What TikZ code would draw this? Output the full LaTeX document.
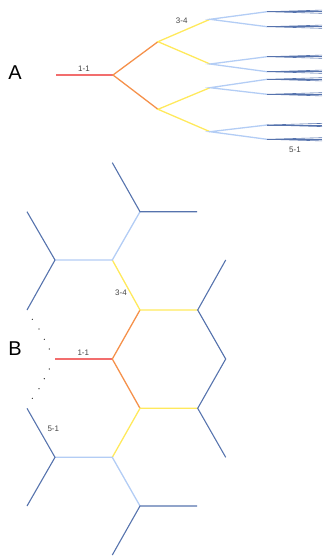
\documentclass[tikz,border=0pt]{standalone}
\usepackage{fontspec}
\setmainfont{Liberation Sans}
\definecolor{cred}{HTML}{F26D6D}
\definecolor{corange}{HTML}{F5914B}
\definecolor{cyellow}{HTML}{FFE95C}
\definecolor{clblue}{HTML}{B3CDF5}
\definecolor{cdblue}{HTML}{5673AD}
\definecolor{ctext}{HTML}{444444}
\tikzset{
  redl/.style={draw=cred,line width=1.4pt},
  orl/.style={draw=corange,line width=1.3pt},
  yel/.style={draw=cyellow,line width=1.3pt},
  lbl/.style={draw=clblue,line width=1.3pt},
  dbl/.style={draw=cdblue,line width=1.1pt},
  fan/.style={draw=cdblue,line width=0.6pt},
  lab/.style={font=\fontsize{8}{9}\selectfont,text=ctext,inner sep=0pt},
  big/.style={font=\fontsize{20}{22}\selectfont,text=black,inner sep=0pt},
  dotm/.style={fill=black,circle,inner sep=0pt,minimum size=1.2pt}
}
\begin{document}
\begin{tikzpicture}[x=1pt,y=-1pt]
\useasboundingbox (0,0) rectangle (322,556);
% ---------- A ----------
\node[big] (A) at (15,73) {A};
\coordinate (a0) at (56,75);
\coordinate (a1) at (113,75);
\coordinate (b1) at (158,41.7);
\coordinate (b2) at (158,109.3);
\coordinate (c1) at (210,19.3);
\coordinate (c2) at (210,64);
\coordinate (c3) at (210,87.7);
\coordinate (c4) at (210,131.7);
\coordinate (d1) at (267,11.7);
\coordinate (d2) at (267,26.7);
\coordinate (d3) at (267,56.7);
\coordinate (d4) at (267,71.7);
\coordinate (d5) at (267,79.3);
\coordinate (d6) at (267,94.3);
\coordinate (d7) at (267,125);
\coordinate (d8) at (267,139.3);
\draw[redl] (a0) -- (a1);
\draw[orl] (b1) -- (a1) -- (b2);
\draw[yel] (c1) -- (b1) -- (c2);
\draw[yel] (c3) -- (b2) -- (c4);
\draw[lbl] (d1) -- (c1) -- (d2);
\draw[lbl] (d3) -- (c2) -- (d4);
\draw[lbl] (d5) -- (c3) -- (d6);
\draw[lbl] (d7) -- (c4) -- (d8);
\foreach \d in {d1,d2,d3,d4,d5,d6,d7,d8}{
  \foreach \o in {-1.6,0,1.6}{
    \draw[fan] (\d) -- ([shift={(55,\o)}]\d);
  }
}
\node[lab] (la1) at (84,69) {1-1};
\node[lab] (la2) at (181.7,20.7) {3-4};
\node[lab] (la3) at (295,149.3) {5-1};
% ---------- B ----------
\node[big] (B) at (15,348.5) {B};
\coordinate (r0) at (55,359);
\coordinate (r1) at (112.3,359);
\coordinate (o1) at (140,310);
\coordinate (o2) at (140,408.3);
\coordinate (y1) at (197.7,310);
\coordinate (y2) at (197.7,408.3);
\coordinate (y3) at (112.3,260);
\coordinate (y4) at (112.3,457.3);
\coordinate (l1) at (55,260);
\coordinate (l2) at (140,211.7);
\coordinate (l3) at (55,457.3);
\coordinate (l4) at (140,506);
\coordinate (e1) at (27,211.7);
\coordinate (e2) at (27,310);
\coordinate (e3) at (112.3,162.7);
\coordinate (e4) at (197,211.7);
\coordinate (e5) at (27,408.3);
\coordinate (e6) at (27,506);
\coordinate (e7) at (197,506);
\coordinate (e8) at (112.3,555);
\coordinate (e9) at (225.7,260);
\coordinate (e10) at (225.7,359);
\coordinate (e11) at (225.7,457.3);
\draw[redl] (r0) -- (r1);
\draw[orl] (o1) -- (r1) -- (o2);
\draw[yel] (y3) -- (o1) -- (y1);
\draw[yel] (y4) -- (o2) -- (y2);
\draw[lbl] (l2) -- (y3) -- (l1);
\draw[lbl] (l4) -- (y4) -- (l3);
\draw[dbl] (e1) -- (l1) -- (e2);
\draw[dbl] (e3) -- (l2) -- (e4);
\draw[dbl] (e5) -- (l3) -- (e6);
\draw[dbl] (e7) -- (l4) -- (e8);
\draw[dbl] (e9) -- (y1) -- (e10) -- (y2) -- (e11);
\node[lab] (lb1) at (83.3,353) {1-1};
\node[lab] (lb2) at (121,292.7) {3-4};
\node[lab] (lb3) at (53.3,429) {5-1};
\foreach \p [count=\i] in {(32.3,319.3),(39,329),(44.3,339.3),(49.3,349),(49.3,369),(44.3,378.7),(39,388.7),(32.3,398.3)}{
  \node[dotm] (dt\i) at \p {};
}
\end{tikzpicture}
\end{document}
